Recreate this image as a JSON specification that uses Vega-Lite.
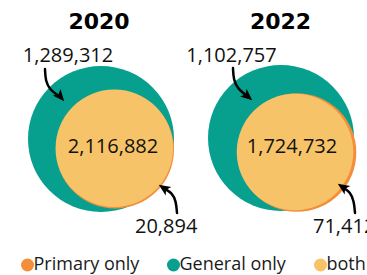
{
  "$schema": "https://vega.github.io/schema/vega-lite/v6.json",
  "width": 367,
  "height": 275,
  "autosize": {"type": "none"},
  "padding": 0,
  "config": {"view": {"stroke": null}, "font": "Open Sans"},
  "datasets": {
    "sets": [
      {"year": "2020", "group": "General only", "count": 1289312, "cx": 101, "cy": 139, "lx": 68, "ly": 62},
      {"year": "2020", "group": "Primary only", "count": 20894, "cx": 115, "cy": 149.6, "lx": 135, "ly": 233},
      {"year": "2020", "group": "both", "count": 2116882, "cx": 114.3, "cy": 148.2, "lx": 113, "ly": 153},
      {"year": "2022", "group": "General only", "count": 1102757, "cx": 281, "cy": 138, "lx": 231.5, "ly": 62},
      {"year": "2022", "group": "Primary only", "count": 71412, "cx": 297, "cy": 152.5, "lx": 313, "ly": 233},
      {"year": "2022", "group": "both", "count": 1724732, "cx": 295, "cy": 152, "lx": 292, "ly": 153}
    ],
    "years": [
      {"year": "2020", "tx": 99, "ty": 29},
      {"year": "2022", "tx": 280.5, "ty": 29}
    ],
    "arrows": [
      {"arrow": "a1", "seq": 0, "x": 45, "y": 69},
      {"arrow": "a1", "seq": 1, "x": 45.5, "y": 81},
      {"arrow": "a1", "seq": 2, "x": 50, "y": 90},
      {"arrow": "a1", "seq": 3, "x": 59, "y": 96},
      {"arrow": "a2", "seq": 0, "x": 233, "y": 68},
      {"arrow": "a2", "seq": 1, "x": 233.5, "y": 80},
      {"arrow": "a2", "seq": 2, "x": 238, "y": 89},
      {"arrow": "a2", "seq": 3, "x": 246.5, "y": 95.5},
      {"arrow": "a3", "seq": 0, "x": 177, "y": 213},
      {"arrow": "a3", "seq": 1, "x": 176, "y": 201},
      {"arrow": "a3", "seq": 2, "x": 172, "y": 193},
      {"arrow": "a3", "seq": 3, "x": 165, "y": 189},
      {"arrow": "a4", "seq": 0, "x": 355, "y": 213},
      {"arrow": "a4", "seq": 1, "x": 354, "y": 201},
      {"arrow": "a4", "seq": 2, "x": 350, "y": 192},
      {"arrow": "a4", "seq": 3, "x": 344, "y": 188}
    ],
    "heads": [
      {"arrow": "a1", "x": 60.1, "y": 96.4, "angle": 139.5},
      {"arrow": "a2", "x": 247.4, "y": 96.1, "angle": 130.5},
      {"arrow": "a3", "x": 164, "y": 188.3, "angle": 304},
      {"arrow": "a4", "x": 343, "y": 187.3, "angle": 304}
    ]
  },
  "layer": [
    {
      "data": {"name": "sets"},
      "transform": [
        {"calculate": "datum.group === 'both' ? datum.count : 0", "as": "bothPart"},
        {"joinaggregate": [{"op": "sum", "field": "bothPart", "as": "bothN"}], "groupby": ["year"]},
        {"calculate": "datum.group === 'both' ? datum.count : datum.count + datum.bothN", "as": "circleN"},
        {"joinaggregate": [{"op": "max", "field": "circleN", "as": "maxN"}], "groupby": ["year"]},
        {"calculate": "datum.circleN / datum.maxN", "as": "share"}
      ],
      "mark": {"type": "point", "shape": "circle", "filled": true, "opacity": 1, "strokeWidth": 0},
      "encoding": {
        "x": {"field": "cx", "type": "quantitative", "scale": {"domain": [0, 367], "nice": false, "zero": false}, "axis": null},
        "y": {"field": "cy", "type": "quantitative", "scale": {"domain": [0, 275], "reverse": true, "nice": false, "zero": false}, "axis": null},
        "size": {"field": "share", "type": "quantitative", "scale": {"domain": [0, 1], "range": [1474, 21316]}, "legend": null},
        "order": {"field": "share", "sort": "descending"},
        "color": {
          "field": "group",
          "type": "nominal",
          "scale": {"domain": ["Primary only", "General only", "both"], "range": ["#F38F3B", "#07A08F", "#F7C368"]},
          "legend": {
            "orient": "none",
            "legendX": 18.5,
            "legendY": 256,
            "direction": "horizontal",
            "title": null,
            "padding": 0,
            "symbolType": "circle",
            "symbolSize": 169,
            "symbolStrokeWidth": 0,
            "symbolOpacity": 1,
            "labelFont": "Open Sans",
            "labelFontSize": 18,
            "labelColor": "#1a1a1a",
            "labelOffset": -3,
            "columnPadding": 25
          }
        }
      }
    },
    {
      "data": {"name": "arrows"},
      "mark": {"type": "line", "color": "#000000", "strokeWidth": 2.5, "interpolate": "basis", "strokeCap": "round"},
      "encoding": {
        "x": {"field": "x", "type": "quantitative", "scale": {"domain": [0, 367], "nice": false, "zero": false}, "axis": null},
        "y": {"field": "y", "type": "quantitative", "scale": {"domain": [0, 275], "reverse": true, "nice": false, "zero": false}, "axis": null},
        "detail": {"field": "arrow", "type": "nominal"},
        "order": {"field": "seq", "type": "quantitative"}
      }
    },
    {
      "data": {"name": "heads"},
      "mark": {"type": "point", "shape": "M0,-1L0.8,0.85L0,0.4L-0.8,0.85Z", "filled": true, "color": "#000000", "opacity": 1, "size": 160, "strokeWidth": 0},
      "encoding": {
        "x": {"field": "x", "type": "quantitative", "scale": {"domain": [0, 367], "nice": false, "zero": false}, "axis": null},
        "y": {"field": "y", "type": "quantitative", "scale": {"domain": [0, 275], "reverse": true, "nice": false, "zero": false}, "axis": null},
        "angle": {"field": "angle", "type": "quantitative", "scale": null}
      }
    },
    {
      "data": {"name": "years"},
      "mark": {"type": "text", "font": "DejaVu Sans", "fontSize": 22, "fontWeight": "bold", "align": "center", "baseline": "alphabetic", "color": "#000000"},
      "encoding": {
        "x": {"field": "tx", "type": "quantitative", "scale": {"domain": [0, 367], "nice": false, "zero": false}, "axis": null},
        "y": {"field": "ty", "type": "quantitative", "scale": {"domain": [0, 275], "reverse": true, "nice": false, "zero": false}, "axis": null},
        "text": {"field": "year", "type": "nominal"}
      }
    },
    {
      "data": {"name": "sets"},
      "transform": [{"filter": "datum.group !== 'Primary only'"}],
      "mark": {"type": "text", "font": "Open Sans", "fontSize": 20, "align": "center", "baseline": "alphabetic", "color": "#111111"},
      "encoding": {
        "x": {"field": "lx", "type": "quantitative", "scale": {"domain": [0, 367], "nice": false, "zero": false}, "axis": null},
        "y": {"field": "ly", "type": "quantitative", "scale": {"domain": [0, 275], "reverse": true, "nice": false, "zero": false}, "axis": null},
        "text": {"field": "count", "type": "quantitative", "format": ","}
      }
    },
    {
      "data": {"name": "sets"},
      "transform": [{"filter": "datum.group === 'Primary only'"}],
      "mark": {"type": "text", "font": "Open Sans", "fontSize": 20, "align": "left", "baseline": "alphabetic", "color": "#111111"},
      "encoding": {
        "x": {"field": "lx", "type": "quantitative", "scale": {"domain": [0, 367], "nice": false, "zero": false}, "axis": null},
        "y": {"field": "ly", "type": "quantitative", "scale": {"domain": [0, 275], "reverse": true, "nice": false, "zero": false}, "axis": null},
        "text": {"field": "count", "type": "quantitative", "format": ","}
      }
    }
  ]
}
